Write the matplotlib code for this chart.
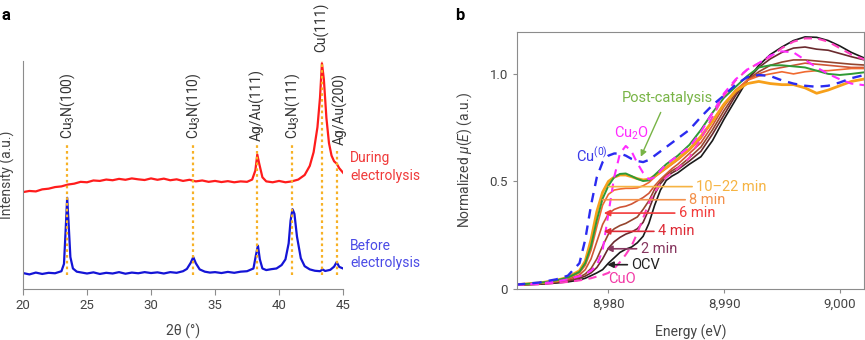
import matplotlib
matplotlib.use('Agg')
import matplotlib.pyplot as plt

plt.rcParams['font.family'] = ['Roboto', 'DejaVu Sans']
plt.rcParams['mathtext.fontset'] = 'custom'
plt.rcParams['mathtext.rm'] = 'Roboto'
plt.rcParams['mathtext.it'] = 'Roboto:italic'

# ---------------- panel a: XRD ----------------
two_theta_before = [20.0, 20.5, 21.0, 21.5, 22.0, 22.5, 23.0, 23.2, 23.35, 23.45, 23.55, 23.7,
                    23.9, 24.2, 24.6, 25.0, 25.5, 26.0, 26.5, 27.0, 27.5, 28.0, 28.5, 29.0,
                    29.5, 30.0, 30.5, 31.0, 31.5, 32.0, 32.5, 32.8, 33.1, 33.3, 33.5, 33.8,
                    34.2, 34.6, 35.0, 35.5, 36.0, 36.5, 37.0, 37.5, 38.0, 38.2, 38.35, 38.5,
                    38.7, 39.0, 39.4, 39.8, 40.2, 40.5, 40.75, 40.9, 41.05, 41.2, 41.4, 41.7,
                    42.0, 42.4, 42.8, 43.2, 43.4, 43.6, 44.0, 44.3, 44.5, 44.7, 45.0]
intensity_before = [0.07, 0.064, 0.072, 0.066, 0.071, 0.069, 0.078, 0.11, 0.28, 0.40, 0.30, 0.14,
                    0.09, 0.076, 0.072, 0.068, 0.073, 0.066, 0.071, 0.068, 0.074, 0.067, 0.072, 0.069,
                    0.074, 0.07, 0.073, 0.068, 0.074, 0.071, 0.078, 0.088, 0.115, 0.14, 0.113, 0.086,
                    0.076, 0.072, 0.074, 0.07, 0.075, 0.071, 0.076, 0.078, 0.09, 0.15, 0.19, 0.13,
                    0.09, 0.083, 0.087, 0.09, 0.105, 0.13, 0.2, 0.3, 0.35, 0.33, 0.23, 0.135,
                    0.1, 0.086, 0.08, 0.078, 0.086, 0.079, 0.084, 0.098, 0.118, 0.097, 0.09]

two_theta_during = [20.0, 20.5, 21.0, 21.5, 22.0, 22.5, 23.0, 23.5, 24.0, 24.5, 25.0, 25.5,
                    26.0, 26.5, 27.0, 27.5, 28.0, 28.5, 29.0, 29.5, 30.0, 30.5, 31.0, 31.5,
                    32.0, 32.5, 33.0, 33.5, 34.0, 34.5, 35.0, 35.5, 36.0, 36.5, 37.0, 37.5,
                    37.9, 38.15, 38.3, 38.45, 38.7, 39.0, 39.5, 40.0, 40.5, 41.0, 41.5, 42.0,
                    42.4, 42.7, 43.0, 43.2, 43.35, 43.5, 43.7, 43.9, 44.1, 44.3, 44.5, 44.7, 45.0]
intensity_during = [0.425, 0.43, 0.428, 0.437, 0.44, 0.447, 0.45, 0.458, 0.462, 0.47, 0.468, 0.476,
                    0.474, 0.48, 0.477, 0.483, 0.479, 0.485, 0.481, 0.478, 0.485, 0.479, 0.484, 0.477,
                    0.481, 0.474, 0.479, 0.472, 0.476, 0.47, 0.474, 0.469, 0.473, 0.468, 0.472, 0.47,
                    0.48, 0.52, 0.59, 0.55, 0.49, 0.472, 0.468, 0.474, 0.468, 0.472, 0.48, 0.5,
                    0.54, 0.6, 0.71, 0.84, 0.99, 0.92, 0.75, 0.64, 0.585, 0.56, 0.55, 0.53, 0.51]

peak_positions = [23.45, 33.3, 38.3, 41.05, 43.35, 44.5]
peak_labels = ['Cu$_3$N(100)', 'Cu$_3$N(110)', 'Ag/Au(111)', 'Cu$_3$N(111)', 'Cu(111)', 'Ag/Au(200)']
peak_line_top = [0.64, 0.64, 0.63, 0.64, 1.0, 0.62]
peak_label_y = [0.66, 0.66, 0.65, 0.66, 1.04, 0.63]
peak_label_x = [23.45, 33.3, 38.3, 41.05, 43.35, 44.8]

xrd_ticks = [20, 25, 30, 35, 40, 45]

# ---------------- panel b: XANES ----------------
energy = [8972, 8974, 8975.5, 8976.5, 8977.5, 8978, 8978.5, 8979, 8979.5, 8980, 8980.5, 8981,
          8981.5, 8982, 8982.5, 8983, 8983.5, 8984, 8984.5, 8985, 8985.5, 8986, 8987, 8988,
          8989, 8990, 8991, 8992, 8993, 8994, 8995, 8996, 8997, 8998, 8999, 9000, 9001, 9002.5]

mu_cu0 = [0.02, 0.03, 0.045, 0.062, 0.12, 0.23, 0.39, 0.52, 0.59, 0.62, 0.63, 0.63,
          0.62, 0.605, 0.595, 0.59, 0.6, 0.62, 0.64, 0.66, 0.68, 0.7, 0.74, 0.8,
          0.855, 0.9, 0.95, 0.985, 0.995, 0.99, 0.97, 0.955, 0.945, 0.94, 0.945, 0.96, 0.98, 1.0]
mu_cu2o = [0.02, 0.025, 0.035, 0.045, 0.06, 0.07, 0.085, 0.11, 0.18, 0.35, 0.52, 0.63,
           0.665, 0.64, 0.585, 0.54, 0.51, 0.52, 0.55, 0.58, 0.6, 0.62, 0.66, 0.73,
           0.82, 0.91, 0.975, 1.02, 1.05, 1.085, 1.105, 1.1, 1.065, 1.03, 1.0, 0.975, 0.955, 0.945]
mu_cuo = [0.02, 0.022, 0.028, 0.033, 0.04, 0.045, 0.05, 0.058, 0.065, 0.075, 0.095, 0.125,
          0.16, 0.2, 0.26, 0.33, 0.4, 0.45, 0.49, 0.52, 0.54, 0.56, 0.61, 0.7,
          0.8, 0.9, 0.97, 1.02, 1.05, 1.08, 1.12, 1.15, 1.165, 1.165, 1.15, 1.12, 1.09, 1.06]

mu_ocv = [0.018, 0.022, 0.028, 0.033, 0.042, 0.05, 0.062, 0.075, 0.09, 0.12, 0.145, 0.17,
          0.185, 0.195, 0.215, 0.245, 0.305, 0.39, 0.46, 0.505, 0.525, 0.54, 0.58, 0.615,
          0.69, 0.79, 0.88, 0.97, 1.04, 1.09, 1.125, 1.155, 1.172, 1.17, 1.155, 1.13, 1.1, 1.065]
mu_2min = [0.018, 0.023, 0.03, 0.037, 0.05, 0.06, 0.075, 0.1, 0.14, 0.19, 0.22, 0.24,
           0.255, 0.265, 0.28, 0.31, 0.37, 0.44, 0.49, 0.52, 0.54, 0.555, 0.595, 0.64,
           0.72, 0.81, 0.9, 0.97, 1.03, 1.07, 1.1, 1.12, 1.125, 1.115, 1.11, 1.095, 1.08, 1.06]
mu_4min = [0.02, 0.025, 0.032, 0.04, 0.055, 0.07, 0.095, 0.14, 0.2, 0.255, 0.28, 0.295,
           0.305, 0.32, 0.335, 0.37, 0.41, 0.465, 0.5, 0.53, 0.55, 0.565, 0.61, 0.66,
           0.74, 0.83, 0.91, 0.97, 1.01, 1.04, 1.055, 1.065, 1.065, 1.06, 1.055, 1.05, 1.045, 1.04]
mu_6min = [0.02, 0.026, 0.035, 0.045, 0.065, 0.09, 0.14, 0.22, 0.3, 0.35, 0.37, 0.38,
           0.385, 0.395, 0.41, 0.425, 0.445, 0.48, 0.51, 0.535, 0.56, 0.58, 0.63, 0.68,
           0.76, 0.85, 0.92, 0.97, 1.0, 1.02, 1.03, 1.04, 1.05, 1.045, 1.04, 1.035, 1.03, 1.03]
mu_8min = [0.02, 0.027, 0.037, 0.05, 0.075, 0.11, 0.18, 0.29, 0.39, 0.44, 0.46, 0.465,
           0.468, 0.468, 0.47, 0.48, 0.495, 0.52, 0.54, 0.56, 0.58, 0.6, 0.645, 0.7,
           0.78, 0.86, 0.925, 0.97, 0.99, 1.0, 1.01, 1.0, 1.01, 1.015, 1.015, 1.02, 1.025, 1.025]
mu_10_22min = [0.02, 0.028, 0.04, 0.055, 0.085, 0.13, 0.23, 0.36, 0.45, 0.5, 0.52, 0.53,
               0.53, 0.522, 0.513, 0.507, 0.51, 0.525, 0.545, 0.565, 0.585, 0.605, 0.65, 0.71,
               0.78, 0.86, 0.92, 0.955, 0.965, 0.955, 0.95, 0.95, 0.935, 0.91, 0.925, 0.945, 0.965, 0.98]
mu_post = [0.02, 0.028, 0.04, 0.053, 0.08, 0.12, 0.2, 0.32, 0.42, 0.48, 0.52, 0.535,
           0.537, 0.525, 0.512, 0.502, 0.505, 0.53, 0.555, 0.58, 0.6, 0.62, 0.67, 0.74,
           0.82, 0.89, 0.94, 0.99, 1.03, 1.04, 1.04, 1.035, 1.03, 1.015, 1.0, 0.995, 1.0, 1.01]

time_labels = ['10–22 min', '8 min', '6 min', '4 min', '2 min', 'OCV']
time_label_y = [0.476, 0.415, 0.353, 0.268, 0.187, 0.113]
time_arrow_tip = [8980.0, 8979.5, 8979.6, 8979.6, 8979.8, 8979.9]
time_text_x = [8987.6, 8987.0, 8986.1, 8984.3, 8982.8, 8982.0]
time_colors = ['#f6b443', '#f3914c', '#f23b3b', '#dd2b36', '#86365f', '#222222']
time_heads = [False, False, True, True, True, True]

xanes_ticks = [8980, 8990, 9000]
xanes_ticklabels = ['8,980', '8,990', '9,000']
mu_ticks = [0, 0.5, 1.0]
mu_ticklabels = ['0', '0.5', '1.0']

fig = plt.figure(figsize=(8.65, 3.4), dpi=100)
grey = '#8c8c8c'
tcol = '#444444'

# ---- panel a ----
ax1 = fig.add_axes([0.0266, 0.15, 0.37, 0.6706])
for x, top, lab, ly, lx in zip(peak_positions, peak_line_top, peak_labels, peak_label_y, peak_label_x):
    ax1.plot([x, x], [0.06, top], color='#f7b125', lw=1.6, ls=(0, (1.2, 1.4)), zorder=3)
    ax1.text(lx, ly, lab, rotation=90, ha='center', va='bottom', fontsize=10,
             color='#333333', clip_on=False)
ax1.plot(two_theta_before, intensity_before, color='#1414d6', lw=1.6, zorder=2)
ax1.plot(two_theta_during, intensity_during, color='#ff1c1c', lw=1.6, zorder=2)
ax1.text(45.55, 0.535, 'During\nelectrolysis', color='#f03a3a', fontsize=10,
         va='center', ha='left', linespacing=1.3, clip_on=False)
ax1.text(45.55, 0.15, 'Before\nelectrolysis', color='#4a4ae6', fontsize=10,
         va='center', ha='left', linespacing=1.3, clip_on=False)
ax1.set_xlim(20, 45)
ax1.set_ylim(0, 1)
ax1.set_xticks(xrd_ticks)
ax1.set_yticks([])
for s in ['top', 'right']:
    ax1.spines[s].set_visible(False)
for s in ['left', 'bottom']:
    ax1.spines[s].set_color(grey)
ax1.tick_params(axis='x', colors=grey, labelcolor=tcol, labelsize=9.5, length=4)
ax1.set_xlabel('2θ (°)', fontsize=10, color=tcol, labelpad=8)
ax1.set_ylabel('Intensity (a.u.)', fontsize=10, color=tcol)
ax1.yaxis.set_label_coords(-0.026, 0.5)

# ---- panel b ----
ax2 = fig.add_axes([0.5977, 0.15, 0.4012, 0.756])
ax2.plot(energy, mu_ocv, color='#1a1a1a', lw=1.2)
ax2.plot(energy, mu_2min, color='#6a2a2e', lw=1.2)
ax2.plot(energy, mu_4min, color='#95452e', lw=1.2)
ax2.plot(energy, mu_6min, color='#cf5536', lw=1.2)
ax2.plot(energy, mu_8min, color='#f06a30', lw=1.2)
ax2.plot(energy, mu_10_22min, color='#f7a01a', lw=2.0)
ax2.plot(energy, mu_post, color='#2f9a35', lw=1.4)
ax2.plot(energy, mu_cuo, color='#ff3fc0', lw=1.5, ls=(0, (4, 3)))
ax2.plot(energy, mu_cu2o, color='#ff2bff', lw=1.5, ls=(0, (4, 3)))
ax2.plot(energy, mu_cu0, color='#2b2bf0', lw=1.7, ls=(0, (4, 3)))

for lab, y, tip, tx, c, head in zip(time_labels, time_label_y, time_arrow_tip,
                                    time_text_x, time_colors, time_heads):
    style = '-|>' if head else '-'
    ax2.annotate(lab, xy=(tip, y), xytext=(tx, y), color=c, fontsize=10.5,
                 ha='left', va='center',
                 arrowprops=dict(arrowstyle=style, color=c, lw=1.2,
                                 shrinkA=1, shrinkB=0, mutation_scale=9))

ax2.text(8978.6, 0.62, 'Cu$^{(0)}$', color='#3a3ae8', fontsize=10.5, ha='center', va='center')
ax2.text(8982.0, 0.725, 'Cu$_2$O', color='#ff2bff', fontsize=10.5, ha='center', va='center')
ax2.text(8981.2, 0.045, 'CuO', color='#f23aa6', fontsize=10.5, ha='center', va='center')
ax2.annotate('Post-catalysis', xy=(8982.8, 0.615), xytext=(8985.1, 0.89),
             color='#78b446', fontsize=10.5, ha='center', va='center',
             arrowprops=dict(arrowstyle='-|>', color='#78b446', lw=1.0,
                             shrinkA=4, shrinkB=0, mutation_scale=9))

ax2.set_xlim(8972.1, 9002.1)
ax2.set_ylim(0, 1.195)
ax2.set_xticks(xanes_ticks)
ax2.set_xticklabels(xanes_ticklabels)
ax2.set_yticks(mu_ticks)
ax2.set_yticklabels(mu_ticklabels)
for s in ax2.spines.values():
    s.set_color(grey)
ax2.tick_params(colors=grey, labelcolor=tcol, labelsize=9.5, length=3)
ax2.set_xlabel('Energy (eV)', fontsize=10, color=tcol, labelpad=10)
ax2.set_ylabel('Normalized $\\mu(E)$ (a.u.)', fontsize=10, color=tcol)
ax2.yaxis.set_label_coords(-0.124, 0.5)

fig.text(0.002, 0.975, 'a', fontsize=12, fontweight='bold', va='top')
fig.text(0.526, 0.975, 'b', fontsize=12, fontweight='bold', va='top')

fig.savefig('out.png', dpi=100)
